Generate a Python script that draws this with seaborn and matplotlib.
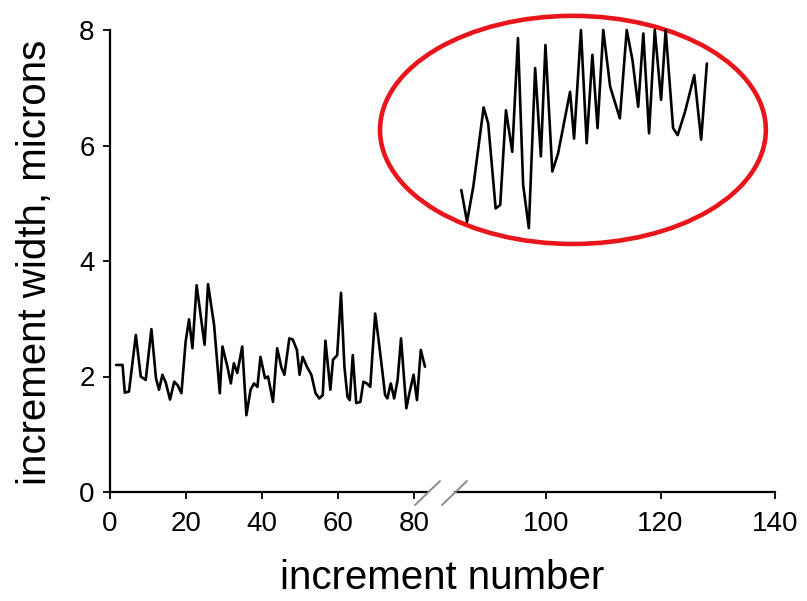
import matplotlib
matplotlib.use("Agg")
import matplotlib.pyplot as plt
from matplotlib.patches import Ellipse
from matplotlib.lines import Line2D
import seaborn as sns
import pandas as pd

# ---- data ----
early_x = [1.6, 3.3, 3.9, 5.0, 6.8, 8.1, 9.4, 10.9, 12.1, 12.9, 13.8, 14.7, 15.8, 16.9,
           17.8, 18.8, 19.9, 20.8, 21.7, 22.8, 23.9, 24.9, 25.8, 27.4, 28.9, 29.6, 30.9,
           31.8, 32.6, 33.5, 34.8, 35.9, 37.0, 37.9, 38.8, 39.6, 40.8, 41.6, 42.9, 44.0,
           45.1, 45.9, 47.2, 48.1, 49.2, 49.9, 50.7, 51.9, 53.0, 54.1, 55.1, 56.0, 56.7,
           58.0, 58.7, 59.8, 60.8, 61.7, 62.5, 63.1, 63.9, 64.8, 65.9, 66.7, 67.6, 68.5,
           69.8, 70.7, 71.6, 72.4, 73.0, 73.9, 74.8, 75.7, 76.6, 78.0, 78.8, 79.9, 80.8,
           81.8, 82.9]
early_y = [2.20, 2.20, 1.72, 1.74, 2.72, 2.00, 1.94, 2.82, 1.97, 1.77, 2.03, 1.89, 1.60, 1.91,
           1.85, 1.71, 2.60, 2.99, 2.49, 3.58, 3.04, 2.55, 3.60, 2.89, 1.71, 2.52, 2.17,
           1.88, 2.23, 2.06, 2.52, 1.33, 1.77, 1.88, 1.82, 2.34, 1.97, 2.00, 1.56, 2.49,
           2.16, 2.03, 2.66, 2.64, 2.46, 2.03, 2.34, 2.16, 2.03, 1.71, 1.62, 1.68, 2.62,
           1.77, 2.29, 2.37, 3.45, 2.17, 1.65, 1.59, 2.37, 1.54, 1.56, 1.91, 1.88, 1.82,
           3.09, 2.63, 2.14, 1.68, 1.62, 1.88, 1.62, 1.94, 2.66, 1.45, 1.71, 2.03, 1.59,
           2.46, 2.17]

late_x = [85.2, 86.2, 87.3, 89.1, 89.9, 91.2, 92.0, 93.0, 94.1, 95.1, 96.0, 97.0, 98.1,
          99.1, 99.9, 101.1, 102.1, 104.2, 104.9, 106.1, 107.1, 108.1, 109.0, 110.0,
          111.2, 112.9, 114.1, 115.1, 116.1, 117.0, 118.0, 119.0, 120.1, 120.9, 122.2,
          123.0, 124.3, 125.9, 127.1, 128.1]
late_y = [5.23, 4.68, 5.29, 6.66, 6.38, 4.91, 4.97, 6.61, 5.89, 7.86, 5.32, 4.57, 7.34,
          5.81, 7.74, 5.55, 5.86, 6.93, 6.12, 8.00, 6.04, 7.57, 6.30, 8.00,
          7.02, 6.47, 8.00, 7.48, 6.67, 7.94, 6.21, 8.00, 6.79, 8.00, 6.30,
          6.18, 6.59, 7.22, 6.10, 7.42]

left_ticks = [0, 20, 40, 60, 80]
right_ticks = [100, 120, 140]
y_ticks = [0, 2, 4, 6, 8]

sns.set_theme(style="ticks")
plt.rcParams["font.family"] = ["Liberation Sans", "DejaVu Sans"]
plt.rcParams["text.color"] = "black"

W, H = 807, 601
fig = plt.figure(figsize=(W / 100, H / 100), dpi=100)

def fx(px):
    return px / W

def fy(py):
    return 1 - py / H

ax1 = fig.add_axes([fx(110), fy(492), fx(428) - fx(110), fy(30) - fy(492)])
ax2 = fig.add_axes([fx(455), fy(492), fx(775) - fx(455), fy(30) - fy(492)])

df1 = pd.DataFrame({"x": early_x, "y": early_y})
df2 = pd.DataFrame({"x": late_x, "y": late_y})
sns.lineplot(data=df1, x="x", y="y", ax=ax1, color="black", lw=1.9, estimator=None, sort=False)
sns.lineplot(data=df2, x="x", y="y", ax=ax2, color="black", lw=1.9, estimator=None, sort=False,
             clip_on=False)

ax1.set_xlim(0, 83.7)
ax2.set_xlim(84.1, 140)
for ax in (ax1, ax2):
    ax.set_ylim(0, 8)
    ax.set_xlabel("")
    ax.set_ylabel("")
    ax.patch.set_alpha(0)
    for s in ("top", "right"):
        ax.spines[s].set_visible(False)
    for s in ("left", "bottom"):
        ax.spines[s].set_linewidth(1.6)
        ax.spines[s].set_color("black")
    ax.tick_params(axis="both", direction="out", length=5, width=1.3, color="black",
                   labelsize=20, labelcolor="black")
    ax.tick_params(axis="x", pad=9)
    ax.tick_params(axis="y", pad=6)

ax1.set_xticks(left_ticks)
ax1.set_yticks(y_ticks)
ax2.set_xticks(right_ticks)
ax2.spines["left"].set_visible(False)
ax2.set_yticks([])

# break marks
for x0 in (415, 442):
    fig.add_artist(Line2D([fx(x0), fx(x0 + 25)], [fy(505), fy(481)], color="#8c8c8c", lw=1.4))

# red ellipse highlighting late increments
ell = Ellipse((104.7, 6.27), width=67.4, height=3.95, fill=False, edgecolor="#e8161b",
              lw=3.3, clip_on=False, transform=ax2.transData)
ax2.add_patch(ell)

fig.text(fx(442), fy(578), "increment number", ha="center", va="center", fontsize=29,
         color="black")
fig.text(fx(35), fy(262), "increment width, microns", ha="center", va="center",
         fontsize=29, rotation=90, color="black")

fig.savefig("out.png", dpi=100)
